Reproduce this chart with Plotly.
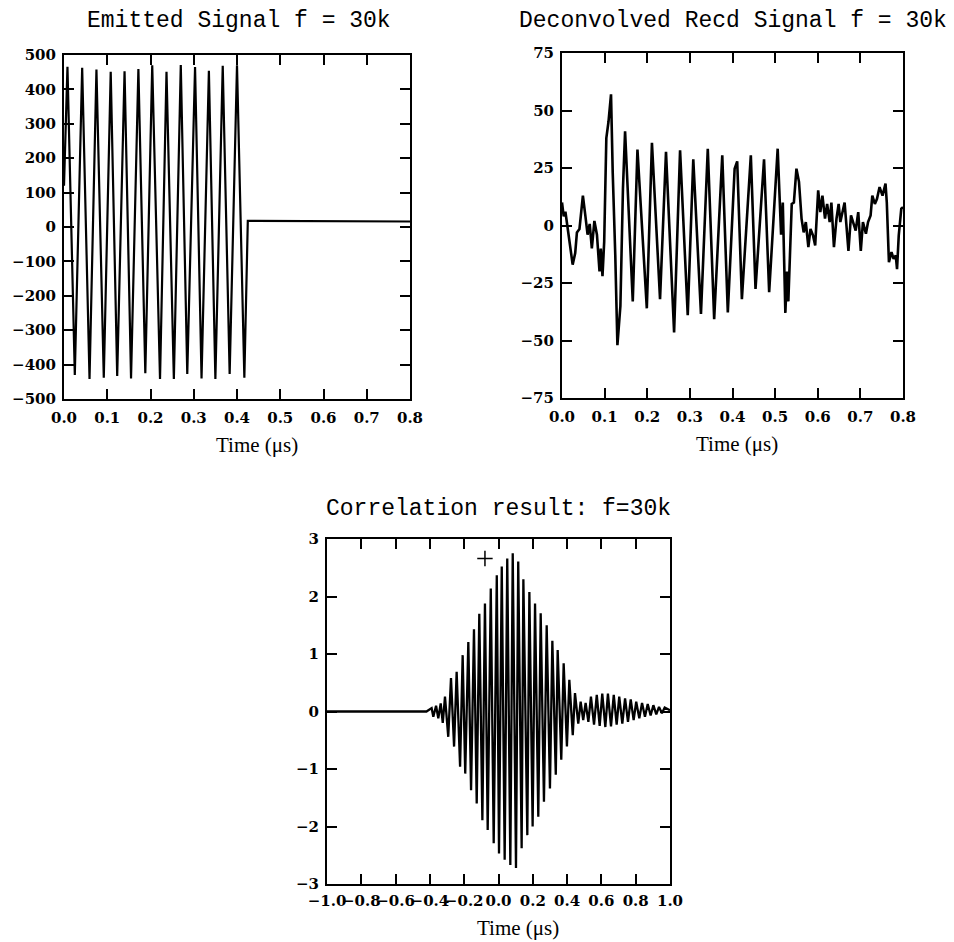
import plotly.graph_objects as go

# ---------------- Emitted signal (µs, amplitude) ----------------
emit_t = [0.000, 0.008, 0.025, 0.042, 0.059, 0.075, 0.092, 0.108, 0.123, 0.140,
          0.155, 0.172, 0.188, 0.204, 0.222, 0.237, 0.254, 0.270, 0.285, 0.303,
          0.318, 0.335, 0.350, 0.367, 0.383, 0.400, 0.417, 0.425, 0.800]
emit_v = [120, 466, -430, 463, -442, 458, -438, 451, -433, 453,
          -440, 459, -425, 470, -442, 451, -442, 471, -427, 465,
          -440, 454, -442, 469, -427, 470, -438, 18, 16]

# ---------------- Deconvolved received signal ----------------
recd_t = [0.000, 0.004, 0.008, 0.012, 0.018, 0.025, 0.031, 0.035, 0.041, 0.049,
          0.055, 0.060, 0.065, 0.070, 0.076, 0.082, 0.088, 0.091, 0.095, 0.099,
          0.104, 0.109, 0.115, 0.119, 0.125, 0.130, 0.137, 0.143, 0.148, 0.156,
          0.166, 0.177, 0.199, 0.211, 0.230, 0.244, 0.263, 0.277, 0.295, 0.308,
          0.326, 0.342, 0.357, 0.376, 0.389, 0.405, 0.411, 0.422, 0.443, 0.454,
          0.474, 0.486, 0.506, 0.514, 0.518, 0.524, 0.528, 0.531, 0.536, 0.539,
          0.544, 0.550, 0.556, 0.562, 0.567, 0.572, 0.578, 0.583, 0.589, 0.594,
          0.601, 0.606, 0.611, 0.617, 0.622, 0.628, 0.632, 0.638, 0.644, 0.649,
          0.653, 0.658, 0.663, 0.667, 0.672, 0.678, 0.683, 0.689, 0.695, 0.701,
          0.706, 0.713, 0.718, 0.724, 0.728, 0.734, 0.739, 0.745, 0.752, 0.759,
          0.762, 0.767, 0.773, 0.778, 0.783, 0.786, 0.790, 0.796, 0.800]
recd_v = [10, 4, 6, 0, -7, -17, -12, -3, -1.5, 13,
          4, -4, 0.7, -10, 2, -4, -20, -10, -22, -7,
          38, 45, 57, 23, -13, -52, -35, 16, 41, 9,
          -33, 33, -36, 36, -32, 32, -46.5, 32.7, -39, 28.8,
          -38.5, 33.4, -40.7, 30.5, -37.8, 24.7, 27.9, -32, 30.5, -27.6,
          28.8, -29, 33.4, -4, 10, -38, -20, -33, -5, 9.4,
          10, 24.7, 19, 3, -3, 1.5, -9.4, -1.5, -4.4, -8.7,
          15.3, 5.8, 13, 3, 9.4, 1.5, 10, -9.4, 3, 9.4,
          1.5, 5.8, 10, 0.7, -11, 4.4, 1.5, -2.2, 5.8, -11,
          1.5, -3.6, 1.5, 4.4, 13, 9.4, 11.6, 16.7, 13, 18.2,
          10, -16, -11.6, -14.5, -13, -19, -4.4, 7.3, 8]

# ---------------- Correlation result ----------------
corr_peak_t = [-0.390, -0.364, -0.337, -0.312, -0.277, -0.244, -0.209, -0.176, -0.143, -0.112,
               -0.079, -0.045, -0.010, 0.019, 0.051, 0.083, 0.115, 0.145, 0.180, 0.213,
               0.246, 0.281, 0.314, 0.345, 0.380, 0.413, 0.446, 0.479, 0.508, 0.539,
               0.573, 0.605, 0.638, 0.672, 0.704, 0.738, 0.771, 0.803, 0.837, 0.870,
               0.903, 0.936, 0.969]
corr_peak_v = [0.06, 0.10, 0.14, 0.26, 0.58, 0.69, 0.98, 1.21, 1.43, 1.70,
               1.88, 2.14, 2.37, 2.52, 2.66, 2.75, 2.61, 2.30, 2.08, 1.88,
               1.71, 1.50, 1.23, 1.07, 0.84, 0.55, 0.32, 0.17, 0.15, 0.26,
               0.29, 0.31, 0.31, 0.29, 0.26, 0.23, 0.21, 0.17, 0.15, 0.13,
               0.11, 0.08, 0.07]
corr_trough_t = [-0.380, -0.351, -0.325, -0.293, -0.259, -0.224, -0.194, -0.160, -0.127, -0.094,
                 -0.063, -0.028, 0.003, 0.036, 0.069, 0.102, 0.135, 0.168, 0.199, 0.232,
                 0.265, 0.300, 0.334, 0.366, 0.399, 0.433, 0.465, 0.494, 0.524, 0.557,
                 0.590, 0.623, 0.656, 0.689, 0.722, 0.755, 0.788, 0.821, 0.854, 0.887,
                 0.920, 0.953]
corr_trough_v = [-0.09, -0.12, -0.20, -0.44, -0.61, -0.96, -1.08, -1.37, -1.60, -1.89,
                 -2.06, -2.29, -2.47, -2.58, -2.67, -2.72, -2.38, -2.15, -2.00, -1.83,
                 -1.57, -1.34, -1.10, -0.84, -0.61, -0.41, -0.21, -0.15, -0.18, -0.23,
                 -0.25, -0.27, -0.26, -0.23, -0.21, -0.18, -0.15, -0.12, -0.09, -0.07,
                 -0.05, -0.03]
corr_flat_t = [-1.0, -0.42]
corr_flat_v = [0.0, 0.0]
corr_end_t = [1.0]
corr_end_v = [0.02]
marker_t = [-0.079]
marker_v = [2.66]

corr_pts = sorted(zip(corr_flat_t + corr_peak_t + corr_trough_t + corr_end_t,
                      corr_flat_v + corr_peak_v + corr_trough_v + corr_end_v))
corr_t = [p[0] for p in corr_pts]
corr_v = [p[1] for p in corr_pts]

W, H = 954, 942

fig = go.Figure()
fig.add_trace(go.Scatter(x=emit_t, y=emit_v, mode="lines",
                         line=dict(color="black", width=2.2), xaxis="x", yaxis="y"))
fig.add_trace(go.Scatter(x=recd_t, y=recd_v, mode="lines",
                         line=dict(color="black", width=2.6), xaxis="x2", yaxis="y2"))
fig.add_trace(go.Scatter(x=corr_t, y=corr_v, mode="lines",
                         line=dict(color="black", width=2.3), xaxis="x3", yaxis="y3"))
fig.add_trace(go.Scatter(x=marker_t, y=marker_v, mode="markers",
                         marker=dict(symbol="cross-thin", size=11, line=dict(color="black", width=1.5)),
                         xaxis="x3", yaxis="y3"))

tickfont = dict(family="DejaVu Serif", size=15, color="black", weight="bold")
common = dict(showline=True, linecolor="black", linewidth=2, mirror="ticks",
              ticks="inside", ticklen=10, tickwidth=1.5, tickcolor="black",
              showgrid=False, zeroline=False, tickfont=tickfont, tickangle=0,
              automargin=False, fixedrange=True)
xcommon = dict(common, ticklabelstandoff=4)
ycommon = dict(common, ticklabelstandoff=3)


def px_x(a, b):
    return [a / W, b / W]


def px_y(top, bottom):
    return [1 - bottom / H, 1 - top / H]


fig.update_layout(
    template="none",
    width=W, height=H, autosize=False,
    margin=dict(l=0, r=0, t=0, b=0, pad=0, autoexpand=False),
    paper_bgcolor="white", plot_bgcolor="white",
    showlegend=False,
    xaxis=dict(xcommon, domain=px_x(64, 410), range=[0, 0.8], tick0=0, dtick=0.1,
               tickformat=".1f", anchor="y"),
    yaxis=dict(ycommon, domain=px_y(55, 399), range=[-500, 500], tick0=0, dtick=100, anchor="x"),
    xaxis2=dict(xcommon, domain=px_x(562, 903), range=[0, 0.8], tick0=0, dtick=0.1,
                tickformat=".1f", anchor="y2"),
    yaxis2=dict(ycommon, domain=px_y(53, 398), range=[-75, 75], tick0=0, dtick=25, anchor="x2"),
    xaxis3=dict(common, ticklabelstandoff=2, domain=px_x(327, 670), range=[-1, 1], tick0=0,
                dtick=0.2, tickformat=".1f", anchor="y3"),
    yaxis3=dict(ycommon, domain=px_y(539, 884), range=[-3, 3], tick0=0, dtick=1, anchor="x3"),
)

title_font = dict(family="Liberation Mono", size=23, color="black")
label_font = dict(family="Liberation Serif", size=21, color="black")


def note(text, cx, cy, font):
    fig.add_annotation(text=text, x=cx / W, y=1 - cy / H, xref="paper", yref="paper",
                       xanchor="center", yanchor="middle", showarrow=False, font=font)


note("Emitted Signal f = 30k", 239, 21, title_font)
note("Deconvolved Recd Signal f = 30k", 733, 21, title_font)
note("Correlation result: f=30k", 498, 509, title_font)
note("Time (μs)", 257, 445, label_font)
note("Time (μs)", 737, 444, label_font)
note("Time (μs)", 518, 928, label_font)

# Pin the page so the figure sits at the top-left corner at its fixed size.
page_css = ("document.body.style.margin='0';"
            "document.body.style.padding='0';"
            "document.body.style.overflow='hidden';"
            "document.documentElement.style.overflow='hidden';")

fig.write_html("out.html", config={"responsive": False, "displayModeBar": False},
               post_script=page_css)
